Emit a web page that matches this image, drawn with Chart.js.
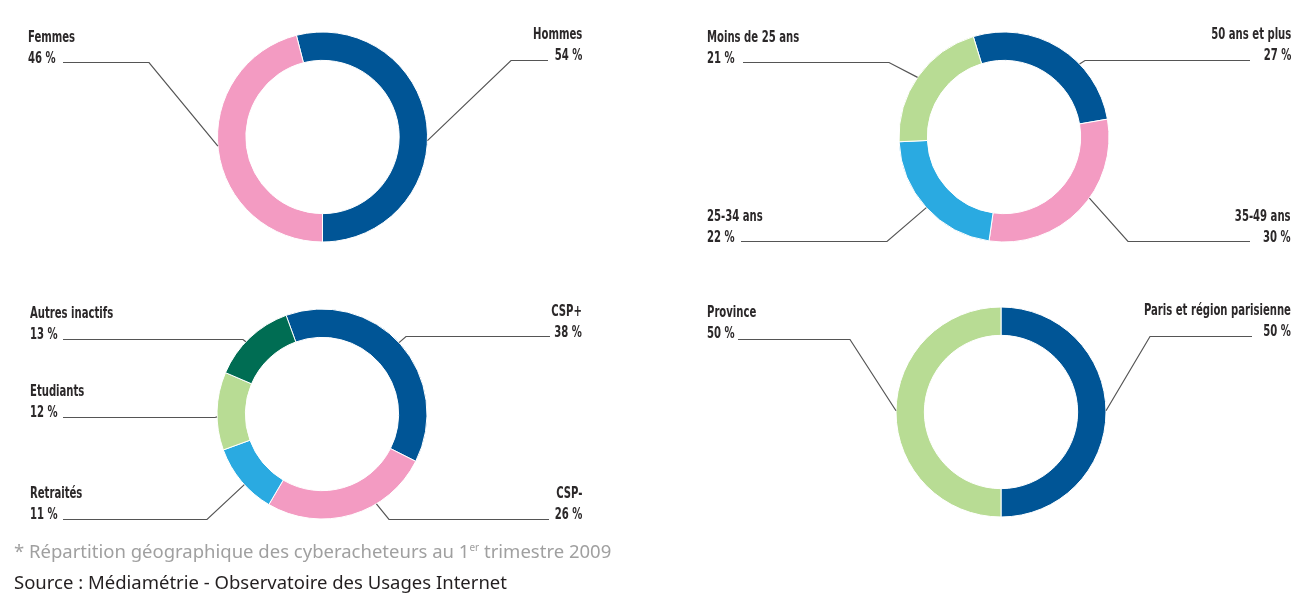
<!DOCTYPE html>
<html lang="fr">
<head>
<meta charset="utf-8">
<title>Profil des cyberacheteurs</title>
<script src="https://cdn.jsdelivr.net/npm/chart.js@4/dist/chart.umd.min.js"></script>
<style>
  html, body { margin: 0; padding: 0; background: #ffffff; }
  #page { position: relative; width: 1307px; height: 596px; overflow: hidden; }
  canvas { position: absolute; }
  .lbl {
    position: absolute;
    font-family: 'DejaVu Sans Condensed', 'DejaVu Sans', sans-serif;
    font-size: 16px;
    font-weight: bold;
    line-height: 21px;
    color: #2b2829;
    white-space: nowrap;
    transform: scaleX(0.7);
    transform-origin: left center;
  }
  .lbl.right { text-align: right; transform-origin: right center; }
  .note {
    position: absolute; left: 14px;
    font-family: 'Noto Sans', 'Open Sans', sans-serif;
    font-size: 18.5px; white-space: nowrap;
  }
  .note sup { font-size: 10px; vertical-align: 7px; line-height: 0; }
</style>
</head>
<body>
<div id="page">
  <canvas id="cSexe" width="645" height="274" style="left:0;top:0"></canvas>
  <canvas id="cAge" width="600" height="274" style="left:704px;top:0"></canvas>
  <canvas id="cCsp" width="644" height="260" style="left:0;top:284px"></canvas>
  <canvas id="cRegion" width="600" height="260" style="left:701px;top:282px"></canvas>
  <div class="note" style="top:538px;color:#a0a0a0">* Répartition géographique des cyberacheteurs au 1<sup>er</sup> trimestre 2009</div>
  <div class="note" style="top:569px;color:#231f20">Source : Médiamétrie - Observatoire des Usages Internet</div>
</div>
<script>
// Répartition des cyberacheteurs (en %)
const sexeLabels = ['Hommes', 'Femmes'];
const sexeValues = [54, 46];

const ageLabels = ['50 ans et plus', '35-49 ans', '25-34 ans', 'Moins de 25 ans'];
const ageValues = [27, 30, 22, 21];

const cspLabels = ['CSP+', 'CSP-', 'Retraités', 'Etudiants', 'Autres inactifs'];
const cspValues = [38, 26, 11, 12, 13];

const regionLabels = ['Paris et région parisienne', 'Province'];
const regionValues = [50, 50];

// Palette
const BLUE = '#005596', PINK = '#f39bc2', SKY = '#2aaae1', LIME = '#b8dc94', GREEN = '#006d53';

// Label placement and leader lines (page coordinates), one entry per slice
const sexeCallouts = [
  { side: 'right', x: 582, y: 33, angle: 92, elbow: [511, 60], end: [548, 60] },
  { side: 'left', x: 28, y: 36, angle: 265, elbow: [149, 62], end: [63, 62] }
];
const ageCallouts = [
  { side: 'right', x: 1291, y: 33, angle: 46, elbow: [1085, 60], end: [1250, 60] },
  { side: 'right', x: 1291, y: 215, angle: 125.6, elbow: [1128, 241], end: [1250, 241] },
  { side: 'left', x: 707, y: 215, angle: 227.7, elbow: [887, 241], end: [741, 241] },
  { side: 'left', x: 707, y: 36, angle: 304.6, elbow: [889, 62], end: [743, 62] }
];
const cspCallouts = [
  { side: 'right', x: 582, y: 310, angle: 47.2, elbow: [406, 336], end: [550, 336] },
  { side: 'right', x: 582, y: 492, angle: 148.8, elbow: [389, 519], end: [549, 519] },
  { side: 'left', x: 30, y: 492, angle: 227.7, elbow: [207, 519], end: [63, 519] },
  { side: 'left', x: 30, y: 390, angle: 268.4, elbow: [215, 417], end: [63, 417] },
  { side: 'left', x: 30, y: 312, angle: 313.5, elbow: [243, 339], end: [63, 339] }
];
const regionCallouts = [
  { side: 'right', x: 1291, y: 309, angle: 89.3, elbow: [1150, 336], end: [1252, 336] },
  { side: 'left', x: 707, y: 311, angle: 270.7, elbow: [850, 339], end: [738, 339] }
];

// Draws the leader line of each slice, starting on the ring's outer edge
const leaderLines = {
  id: 'leaderLines',
  afterDatasetsDraw(chart, args, opts) {
    const arcs = chart.getDatasetMeta(0).data;
    if (!arcs.length) return;
    const { x, y, outerRadius } = arcs[0];
    const ox = chart.canvas.offsetLeft, oy = chart.canvas.offsetTop;
    const ctx = chart.ctx;
    ctx.save();
    ctx.strokeStyle = '#555555';
    ctx.lineWidth = 1.2;
    (opts.items || []).forEach(c => {
      const a = c.angle * Math.PI / 180;
      const ax = x + outerRadius * Math.sin(a);
      const ay = y - outerRadius * Math.cos(a);
      ctx.beginPath();
      ctx.moveTo(ax, ay);
      ctx.lineTo(c.elbow[0] - ox, c.elbow[1] - oy + 0.5);
      ctx.lineTo(c.end[0] - ox, c.end[1] - oy + 0.5);
      ctx.stroke();
    });
    ctx.restore();
  }
};

function addLabels(labels, values, callouts) {
  const page = document.getElementById('page');
  callouts.forEach((c, i) => {
    const d = document.createElement('div');
    d.className = 'lbl' + (c.side === 'right' ? ' right' : '');
    d.style.top = (c.y - 10.5) + 'px';
    if (c.side === 'right') d.style.right = (1307 - c.x) + 'px';
    else d.style.left = c.x + 'px';
    d.innerHTML = labels[i] + '<br>' + values[i] + ' %';
    page.appendChild(d);
  });
}

function donut(id, labels, values, colors, rotation, callouts) {
  new Chart(document.getElementById(id), {
    type: 'doughnut',
    data: {
      labels: labels,
      datasets: [{
        data: values,
        backgroundColor: colors,
        borderColor: '#ffffff',
        borderWidth: 1
      }]
    },
    options: {
      responsive: false,
      animation: false,
      radius: 105,
      cutout: '73%',
      rotation: rotation,
      layout: { padding: 0 },
      events: [],
      plugins: {
        legend: { display: false },
        tooltip: { enabled: false },
        leaderLines: { items: callouts }
      }
    },
    plugins: [leaderLines]
  });
  addLabels(labels, values, callouts);
}

donut('cSexe', sexeLabels, sexeValues, [BLUE, PINK], -14.4, sexeCallouts);
donut('cAge', ageLabels, ageValues, [BLUE, PINK, SKY, LIME], -17, ageCallouts);
donut('cCsp', cspLabels, cspValues, [BLUE, PINK, SKY, LIME, GREEN], -20, cspCallouts);
donut('cRegion', regionLabels, regionValues, [BLUE, LIME], 0, regionCallouts);
</script>
</body>
</html>
